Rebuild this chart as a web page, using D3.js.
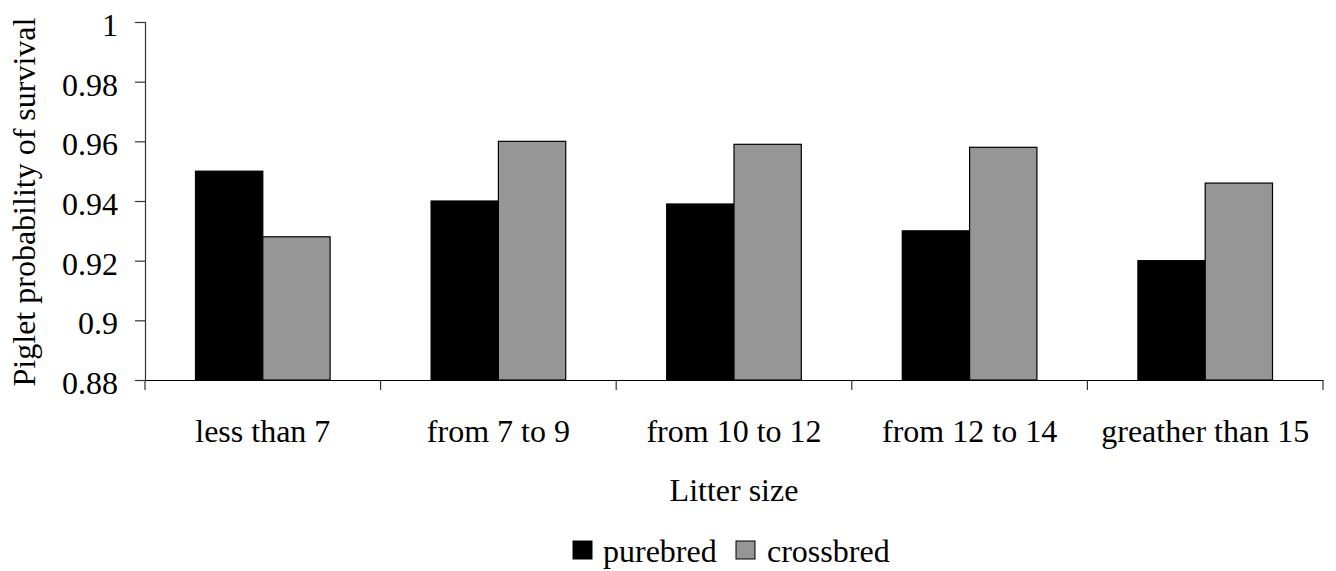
<!DOCTYPE html>
<html>
<head>
<meta charset="utf-8">
<script src="https://cdn.jsdelivr.net/npm/d3@7"></script>
<style>
  html, body { margin: 0; padding: 0; background: #fff; }
  svg { display: block; }
  svg text { font-family: 'Liberation Serif', 'LiberationSerif', 'Nimbus Roman', 'Nimbus Roman No9 L', 'FreeSerif', 'Noto Serif', 'DejaVu Serif', Georgia, Times, serif !important; fill: #000; }
</style>
</head>
<body>
<svg id="chart" width="1336" height="571"></svg>
<script>
// Piglet survival by litter size, purebred vs crossbred
const categories = ["less than 7", "from 7 to 9", "from 10 to 12", "from 12 to 14", "greather than 15"];
const seriesNames = ["purebred", "crossbred"];
const purebred = [0.950, 0.940, 0.939, 0.930, 0.920];
const crossbred = [0.928, 0.960, 0.959, 0.958, 0.946];
const yTicks = [0.88, 0.9, 0.92, 0.94, 0.96, 0.98, 1];
const seriesColors = ["#000000", "#969696"];

const FONT = 32;
const plotLeft = 145, plotRight = 1323, plotTop = 22, plotBottom = 380;

const svg = d3.select("#chart");

const x = d3.scaleBand().domain(categories).range([plotLeft, plotRight]).paddingInner(0).paddingOuter(0);
// two bars per category, gap of 1.5 bar widths shared around them
const barW = x.bandwidth() / 3.5;
const xs = d3.scaleBand().domain(seriesNames).range([0, 2 * barW]);
const y = d3.scaleLinear().domain([0.88, 1]).range([plotBottom, plotTop]);

const rows = categories.map((c, i) => ({ cat: c, values: [purebred[i], crossbred[i]] }));

// bars
const groups = svg.append("g").selectAll("g")
  .data(rows).join("g")
  .attr("transform", d => `translate(${x(d.cat) + (x.bandwidth() - 2 * barW) / 2},0)`);

groups.selectAll("rect")
  .data(d => d.values.map((v, k) => ({ name: seriesNames[k], v, k })))
  .join("rect")
  .attr("x", d => xs(d.name))
  .attr("y", d => y(d.v))
  .attr("width", xs.bandwidth())
  .attr("height", d => y(0.88) - y(d.v))
  .attr("fill", d => seriesColors[d.k])
  .attr("stroke", "#000")
  .attr("stroke-width", 1.2);

// y axis
const yAxis = svg.append("g")
  .attr("transform", `translate(${plotLeft},0)`)
  .call(d3.axisLeft(y).tickValues(yTicks).tickSize(10).tickPadding(17)
    .tickFormat(d => String(+d.toFixed(2))));
yAxis.attr("font-family", null);
yAxis.select(".domain").attr("stroke", "#333").attr("stroke-width", 1.2);
yAxis.selectAll(".tick line").attr("stroke", "#333").attr("stroke-width", 1.2);
yAxis.selectAll("text").attr("font-size", FONT).attr("dy", "0.42em");

// x axis: labels at category centres, tick marks at category boundaries
const xAxis = svg.append("g")
  .attr("transform", `translate(0,${plotBottom})`)
  .call(d3.axisBottom(x).tickSize(0).tickPadding(39));
xAxis.attr("font-family", null);
xAxis.select(".domain").attr("stroke", "#000").attr("stroke-width", 1.2);
xAxis.selectAll("text").attr("font-size", FONT);

const bounds = categories.map(c => x(c)).concat([x(categories[categories.length - 1]) + x.bandwidth()]);
xAxis.selectAll(".bound").data(bounds).join("line")
  .attr("class", "bound")
  .attr("x1", d => d).attr("x2", d => d)
  .attr("y1", 0).attr("y2", 10)
  .attr("stroke", "#333").attr("stroke-width", 1.2);

// axis titles
svg.append("text")
  .attr("x", (plotLeft + plotRight) / 2).attr("y", 501)
  .attr("text-anchor", "middle").attr("font-size", FONT)
  .text("Litter size");

svg.append("text")
  .attr("transform", `translate(35,${(plotTop + plotBottom) / 2 + 1}) rotate(-90)`)
  .attr("text-anchor", "middle").attr("font-size", FONT)
  .text("Piglet probability of survival");

// legend
const legend = svg.append("g");
const legendItems = [
  { name: seriesNames[0], color: seriesColors[0], sx: 573, tx: 603 },
  { name: seriesNames[1], color: seriesColors[1], sx: 736, tx: 767 }
];
legend.selectAll("rect").data(legendItems).join("rect")
  .attr("x", d => d.sx).attr("y", 541)
  .attr("width", 19).attr("height", 18)
  .attr("fill", d => d.color).attr("stroke", "#000").attr("stroke-width", 1);
legend.selectAll("text").data(legendItems).join("text")
  .attr("x", d => d.tx).attr("y", 562)
  .attr("font-size", FONT)
  .text(d => d.name);
</script>
</body>
</html>
